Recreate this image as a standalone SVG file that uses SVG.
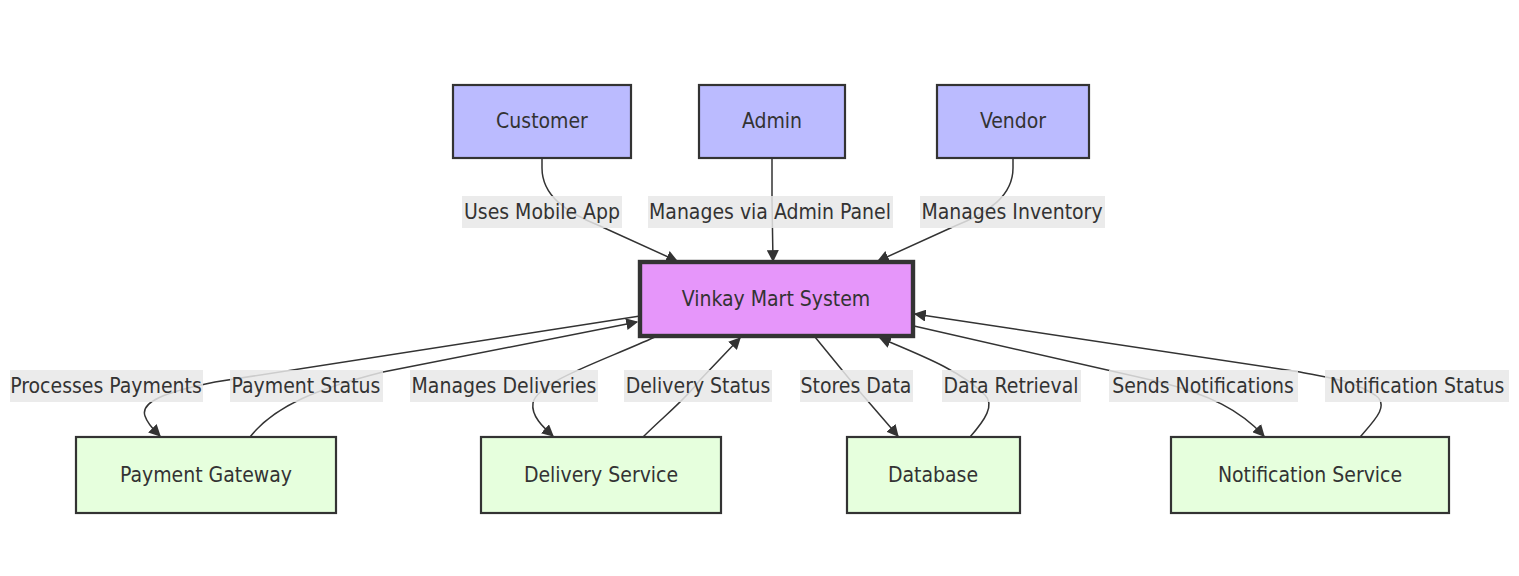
<svg xmlns="http://www.w3.org/2000/svg" width="1519" height="576" viewBox="0 0 1519 576">
<style>
.bg{fill:#ffffff}
.actor{fill:#bbbbff;stroke:#333;stroke-width:2.2}
.core{fill:#e696fa;stroke:#333;stroke-width:4.4}
.svc{fill:#e6ffdd;stroke:#333;stroke-width:2.2}
.t{font-family:"DejaVu Sans Condensed","DejaVu Sans",sans-serif;font-size:21px;fill:#333;text-anchor:middle;dominant-baseline:central}
.e{fill:none;stroke:#333;stroke-width:1.5;marker-end:url(#arr)}
.lb{fill:#e8e8e8;opacity:0.85}
</style>
<defs>
<marker id="arr" viewBox="0 0 10 10" refX="9" refY="5" markerWidth="12" markerHeight="12" markerUnits="userSpaceOnUse" orient="auto">
<path d="M0,0 L10,5 L0,10 z" fill="#333"/>
</marker>
</defs>
<rect class="bg" x="0" y="0" width="1519" height="576"/>
<g id="connectors">
<path class="e" d="M542,158 L542,168 C542,195 565,212 600,226 L677,261"/>
<path class="e" d="M772,158 L772,200 L773,261"/>
<path class="e" d="M1013,158 L1013,168 C1013,195 990,212 955,226 L878,261"/>
<path class="e" d="M640,316 L215,382 C165,392 140,402 145,416 C148,425 155,431 160,436"/>
<path class="e" d="M250,437 C275,405 320,388 383,372 L637,322"/>
<path class="e" d="M655,337 C600,362 537,382 533,403 C531,416 543,427 553,436"/>
<path class="e" d="M643,437 C665,415 685,400 700,380 L740,338"/>
<path class="e" d="M815,337 L860,392 L898,436"/>
<path class="e" d="M970,437 C985,420 995,405 985,395 C960,370 920,355 880,338"/>
<path class="e" d="M914,326 L1160,382 C1210,395 1240,410 1264,436"/>
<path class="e" d="M1360,437 C1375,420 1390,405 1375,395 C1350,380 1340,380 1300,372 L915,314"/>
</g>
<g id="edge-labels">
<rect class="lb" x="462" y="196" width="160" height="32"/><text class="t" x="542" y="212">Uses Mobile App</text>
<rect class="lb" x="648" y="196" width="245" height="32"/><text class="t" x="770" y="212">Manages via Admin Panel</text>
<rect class="lb" x="920" y="196" width="185" height="32"/><text class="t" x="1012" y="212">Manages Inventory</text>
<rect class="lb" x="10" y="370" width="193" height="32"/><text class="t" x="106" y="386">Processes Payments</text>
<rect class="lb" x="230" y="370" width="153" height="32"/><text class="t" x="306" y="386">Payment Status</text>
<rect class="lb" x="410" y="370" width="188" height="32"/><text class="t" x="504" y="386">Manages Deliveries</text>
<rect class="lb" x="624" y="370" width="148" height="32"/><text class="t" x="698" y="386">Delivery Status</text>
<rect class="lb" x="800" y="370" width="113" height="32"/><text class="t" x="856" y="386">Stores Data</text>
<rect class="lb" x="942" y="370" width="139" height="32"/><text class="t" x="1011" y="386">Data Retrieval</text>
<rect class="lb" x="1109" y="370" width="189" height="32"/><text class="t" x="1203" y="386">Sends Notifications</text>
<rect class="lb" x="1325" y="370" width="184" height="32"/><text class="t" x="1417" y="386">Notification Status</text>
</g>
<g id="customer"><rect class="actor" x="453" y="85" width="178" height="73"/><text class="t" x="542" y="121">Customer</text></g>
<g id="admin"><rect class="actor" x="699" y="85" width="146" height="73"/><text class="t" x="772" y="121">Admin</text></g>
<g id="vendor"><rect class="actor" x="937" y="85" width="152" height="73"/><text class="t" x="1013" y="121">Vendor</text></g>
<g id="system"><rect class="core" x="640" y="262" width="273" height="74"/><text class="t" x="776" y="299">Vinkay Mart System</text></g>
<g id="payment"><rect class="svc" x="76" y="437" width="260" height="76"/><text class="t" x="206" y="475">Payment Gateway</text></g>
<g id="delivery"><rect class="svc" x="481" y="437" width="240" height="76"/><text class="t" x="601" y="475">Delivery Service</text></g>
<g id="database"><rect class="svc" x="847" y="437" width="173" height="76"/><text class="t" x="933" y="475">Database</text></g>
<g id="notification"><rect class="svc" x="1171" y="437" width="278" height="76"/><text class="t" x="1310" y="475">Notification Service</text></g>
</svg>
